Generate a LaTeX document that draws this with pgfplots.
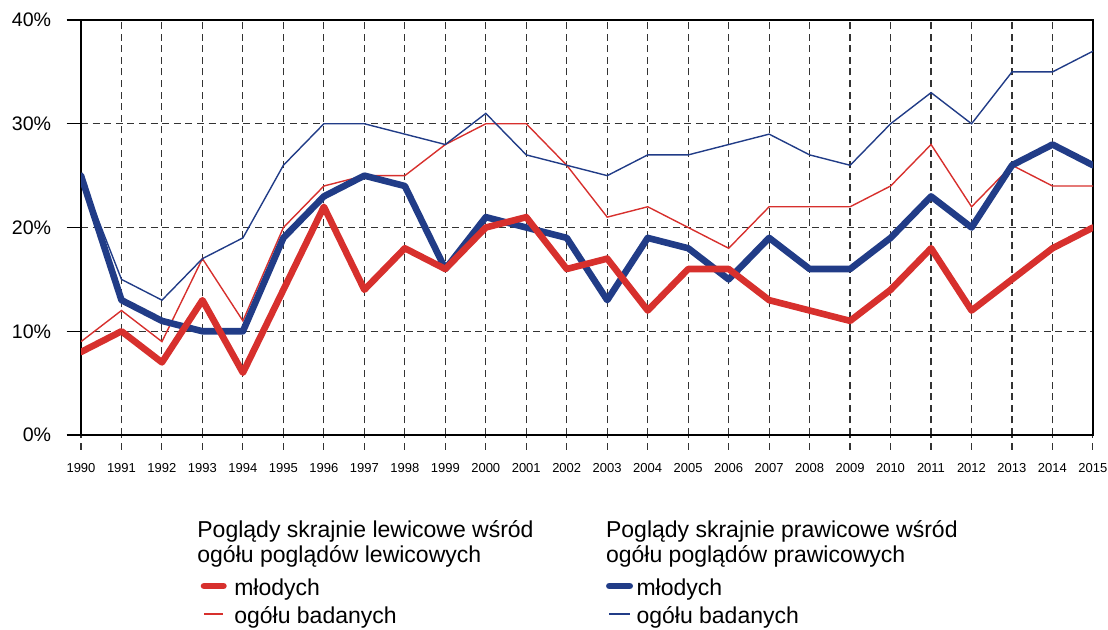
\documentclass[border=0pt]{standalone}
\usepackage{fontspec}
\setmainfont{Liberation Sans}
\usepackage{pgfplots}
\pgfplotsset{compat=1.18}
\definecolor{cred}{RGB}{215,48,45}
\definecolor{cblue}{RGB}{33,60,135}
\newcommand{\legfont}{\fontsize{11.5}{12.5}\selectfont}
\pgfplotsset{
  thickred/.style={color=cred, line width=3.3pt, line join=round, line cap=round},
  thinred/.style={color=cred, line width=0.7pt, line join=miter},
  thickblue/.style={color=cblue, line width=3.3pt, line join=round, line cap=round},
  thinblue/.style={color=cblue, line width=0.7pt, line join=miter},
  mylegend/.style={legend style={draw=none, fill=none, inner sep=0pt, outer sep=0pt,
      row sep=3pt, font=\legfont, anchor=north west,
      nodes={inner sep=0pt, text height=8.5pt, text depth=2.5pt, anchor=base west}},
      legend cell align=left},
}
\begin{document}
\begin{tikzpicture}
\useasboundingbox (0,0) rectangle (554pt,314.5pt);
\begin{axis}[
  at={(40.5pt,97pt)}, anchor=south west,
  scale only axis, width=506pt, height=207.5pt,
  xmin=1990, xmax=2015, ymin=0, ymax=40,
  xtick={1990,...,2015}, ytick={0,10,20,30,40},
  /pgf/number format/assume math mode=true,
  /pgf/number format/set thousands separator={},
  yticklabel={\pgfmathprintnumber{\tick}\%},
  axis line style={line width=0.6pt},
  tick align=outside, xtick pos=bottom, ytick pos=left,
  major tick length=7.25pt,
  x tick style={black!80, line width=0.55pt, dash pattern=on 3.5pt off 2.3pt},
  y tick style={black, line width=0.6pt},
  xmajorgrids, ymajorgrids,
  grid style={black!80, line width=0.55pt, dash pattern=on 3.5pt off 2.3pt},
  xticklabel style={font=\fontsize{6.5}{7}\selectfont, inner sep=0pt, anchor=base, yshift=-11.35pt},
  yticklabel style={font=\fontsize{9.8}{10}\selectfont, inner sep=0pt, anchor=east, xshift=-7.5pt},
  mylegend,
  legend style={at={(axis description cs:0.1183,-0.3446)}},
  legend image code/.code={\draw[#1] (1pt,4.5pt) -- (10.7pt,4.5pt); \path[draw=none, fill=none] (0pt,4.5pt) -- (16.15pt,4.5pt);},
]
\addlegendimage{thickred}
\addlegendentry{młodych}
\addlegendimage{thinred}
\addlegendentry{ogółu badanych}
% ogółu badanych - lewicowe
\addplot[thinred, forget plot] coordinates {
(1990,9)(1991,12)(1992,9)(1993,17)(1994,11)(1995,20)(1996,24)(1997,25)(1998,25)(1999,28)
(2000,30)(2001,30)(2002,26)(2003,21)(2004,22)(2005,20)(2006,18)(2007,22)(2008,22)(2009,22)
(2010,24)(2011,28)(2012,22)(2013,26)(2014,24)(2015,24)};
% ogółu badanych - prawicowe
\addplot[thinblue, forget plot] coordinates {
(1990,25)(1991,15)(1992,13)(1993,17)(1994,19)(1995,26)(1996,30)(1997,30)(1998,29)(1999,28)
(2000,31)(2001,27)(2002,26)(2003,25)(2004,27)(2005,27)(2006,28)(2007,29)(2008,27)(2009,26)
(2010,30)(2011,33)(2012,30)(2013,35)(2014,35)(2015,37)};
% młodych - prawicowe
\addplot[thickblue, forget plot] coordinates {
(1990,25)(1991,13)(1992,11)(1993,10)(1994,10)(1995,19)(1996,23)(1997,25)(1998,24)(1999,16)
(2000,21)(2001,20)(2002,19)(2003,13)(2004,19)(2005,18)(2006,15)(2007,19)(2008,16)(2009,16)
(2010,19)(2011,23)(2012,20)(2013,26)(2014,28)(2015,26)};
% młodych - lewicowe
\addplot[thickred, forget plot] coordinates {
(1990,8)(1991,10)(1992,7)(1993,13)(1994,6)(1995,14)(1996,22)(1997,14)(1998,18)(1999,16)
(2000,20)(2001,21)(2002,16)(2003,17)(2004,12)(2005,16)(2006,16)(2007,13)(2008,12)(2009,11)
(2010,14)(2011,18)(2012,12)(2013,15)(2014,18)(2015,20)};
\end{axis}
\begin{axis}[
  at={(40.5pt,97pt)}, anchor=south west,
  scale only axis, width=506pt, height=207.5pt,
  xmin=1990, xmax=2015, ymin=0, ymax=40,
  hide axis,
  mylegend,
  legend style={at={(axis description cs:0.5188,-0.3446)}},
  legend image code/.code={\draw[#1] (1pt,4.5pt) -- (11.2pt,4.5pt); \path[draw=none, fill=none] (0pt,4.5pt) -- (14.6pt,4.5pt);},
]
\addlegendimage{thickblue}
\addlegendentry{młodych}
\addlegendimage{thinblue}
\addlegendentry{ogółu badanych}
\end{axis}
\node[anchor=base west, inner sep=0pt, font=\legfont] at (98.5pt,46pt) {Poglądy skrajnie lewicowe wśród};
\node[anchor=base west, inner sep=0pt, font=\legfont] at (98.5pt,33.5pt) {ogółu poglądów lewicowych};
\node[anchor=base west, inner sep=0pt, font=\legfont] at (302.85pt,46pt) {Poglądy skrajnie prawicowe wśród};
\node[anchor=base west, inner sep=0pt, font=\legfont] at (302.85pt,33.5pt) {ogółu poglądów prawicowych};
\end{tikzpicture}
\end{document}
